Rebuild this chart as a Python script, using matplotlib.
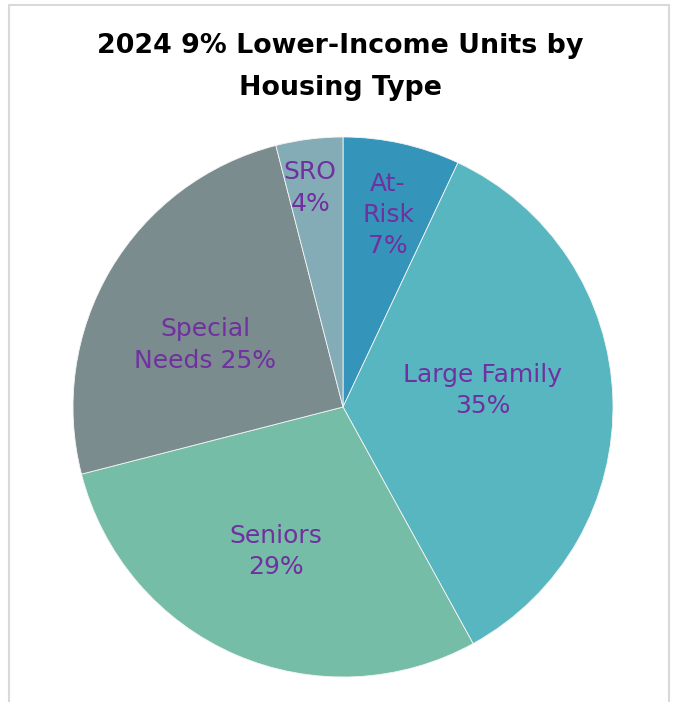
import matplotlib
matplotlib.use("Agg")
import matplotlib.pyplot as plt
from matplotlib.patches import Rectangle
import numpy as np

categories = ["At-\nRisk", "Large Family", "Seniors", "Special\nNeeds", "SRO"]
pct_labels = ["7%", "35%", "29%", "25%", "4%"]
values = [7, 35, 29, 25, 4]
colors = ["#3494BA", "#58B6C0", "#75BDA7", "#7A8C8E", "#84ACB6"]
label_sep = ["\n", "\n", "\n", " ", "\n"]
label_radius = [0.73, 0.52, 0.59, 0.56, 0.82]
label_angle_shift = [-0.6, 4.8, -1.6, 6.4, 1.3]

fig = plt.figure(figsize=(6.8, 7.02), dpi=100)
fig.patch.set_facecolor("white")

# chart frame
fig.add_artist(Rectangle((9/680, -0.05), 660/680, 1.05 - 5/702,
                         transform=fig.transFigure, fill=False,
                         edgecolor="#d9d9d9", linewidth=1.5))

ax = fig.add_axes([(343-270)/680, (702-677)/702, 540/680, 540/702])
wedges, _ = ax.pie(values, colors=colors, startangle=90, counterclock=False,
                   radius=1.0, labels=None,
                   wedgeprops=dict(edgecolor="#f4f4f4", linewidth=0.6))
ax.set_xlim(-1, 1)
ax.set_ylim(-1, 1)
ax.set_aspect("equal")
ax.axis("off")

for w, cat, pct, sep, r, sh in zip(wedges, categories, pct_labels, label_sep,
                                    label_radius, label_angle_shift):
    ang = np.deg2rad((w.theta1 + w.theta2) / 2 + sh)
    ax.text(r*np.cos(ang), r*np.sin(ang), cat + sep + pct,
            ha="center", va="center", color="#7030A0", fontsize=18,
            linespacing=1.38)

fig.text(0.5, 1 - 67/702, "2024 9% Lower-Income Units by\nHousing Type",
         ha="center", va="center", fontsize=19.4, fontweight="bold",
         color="black", linespacing=1.8)

fig.savefig("out.png", dpi=100)
